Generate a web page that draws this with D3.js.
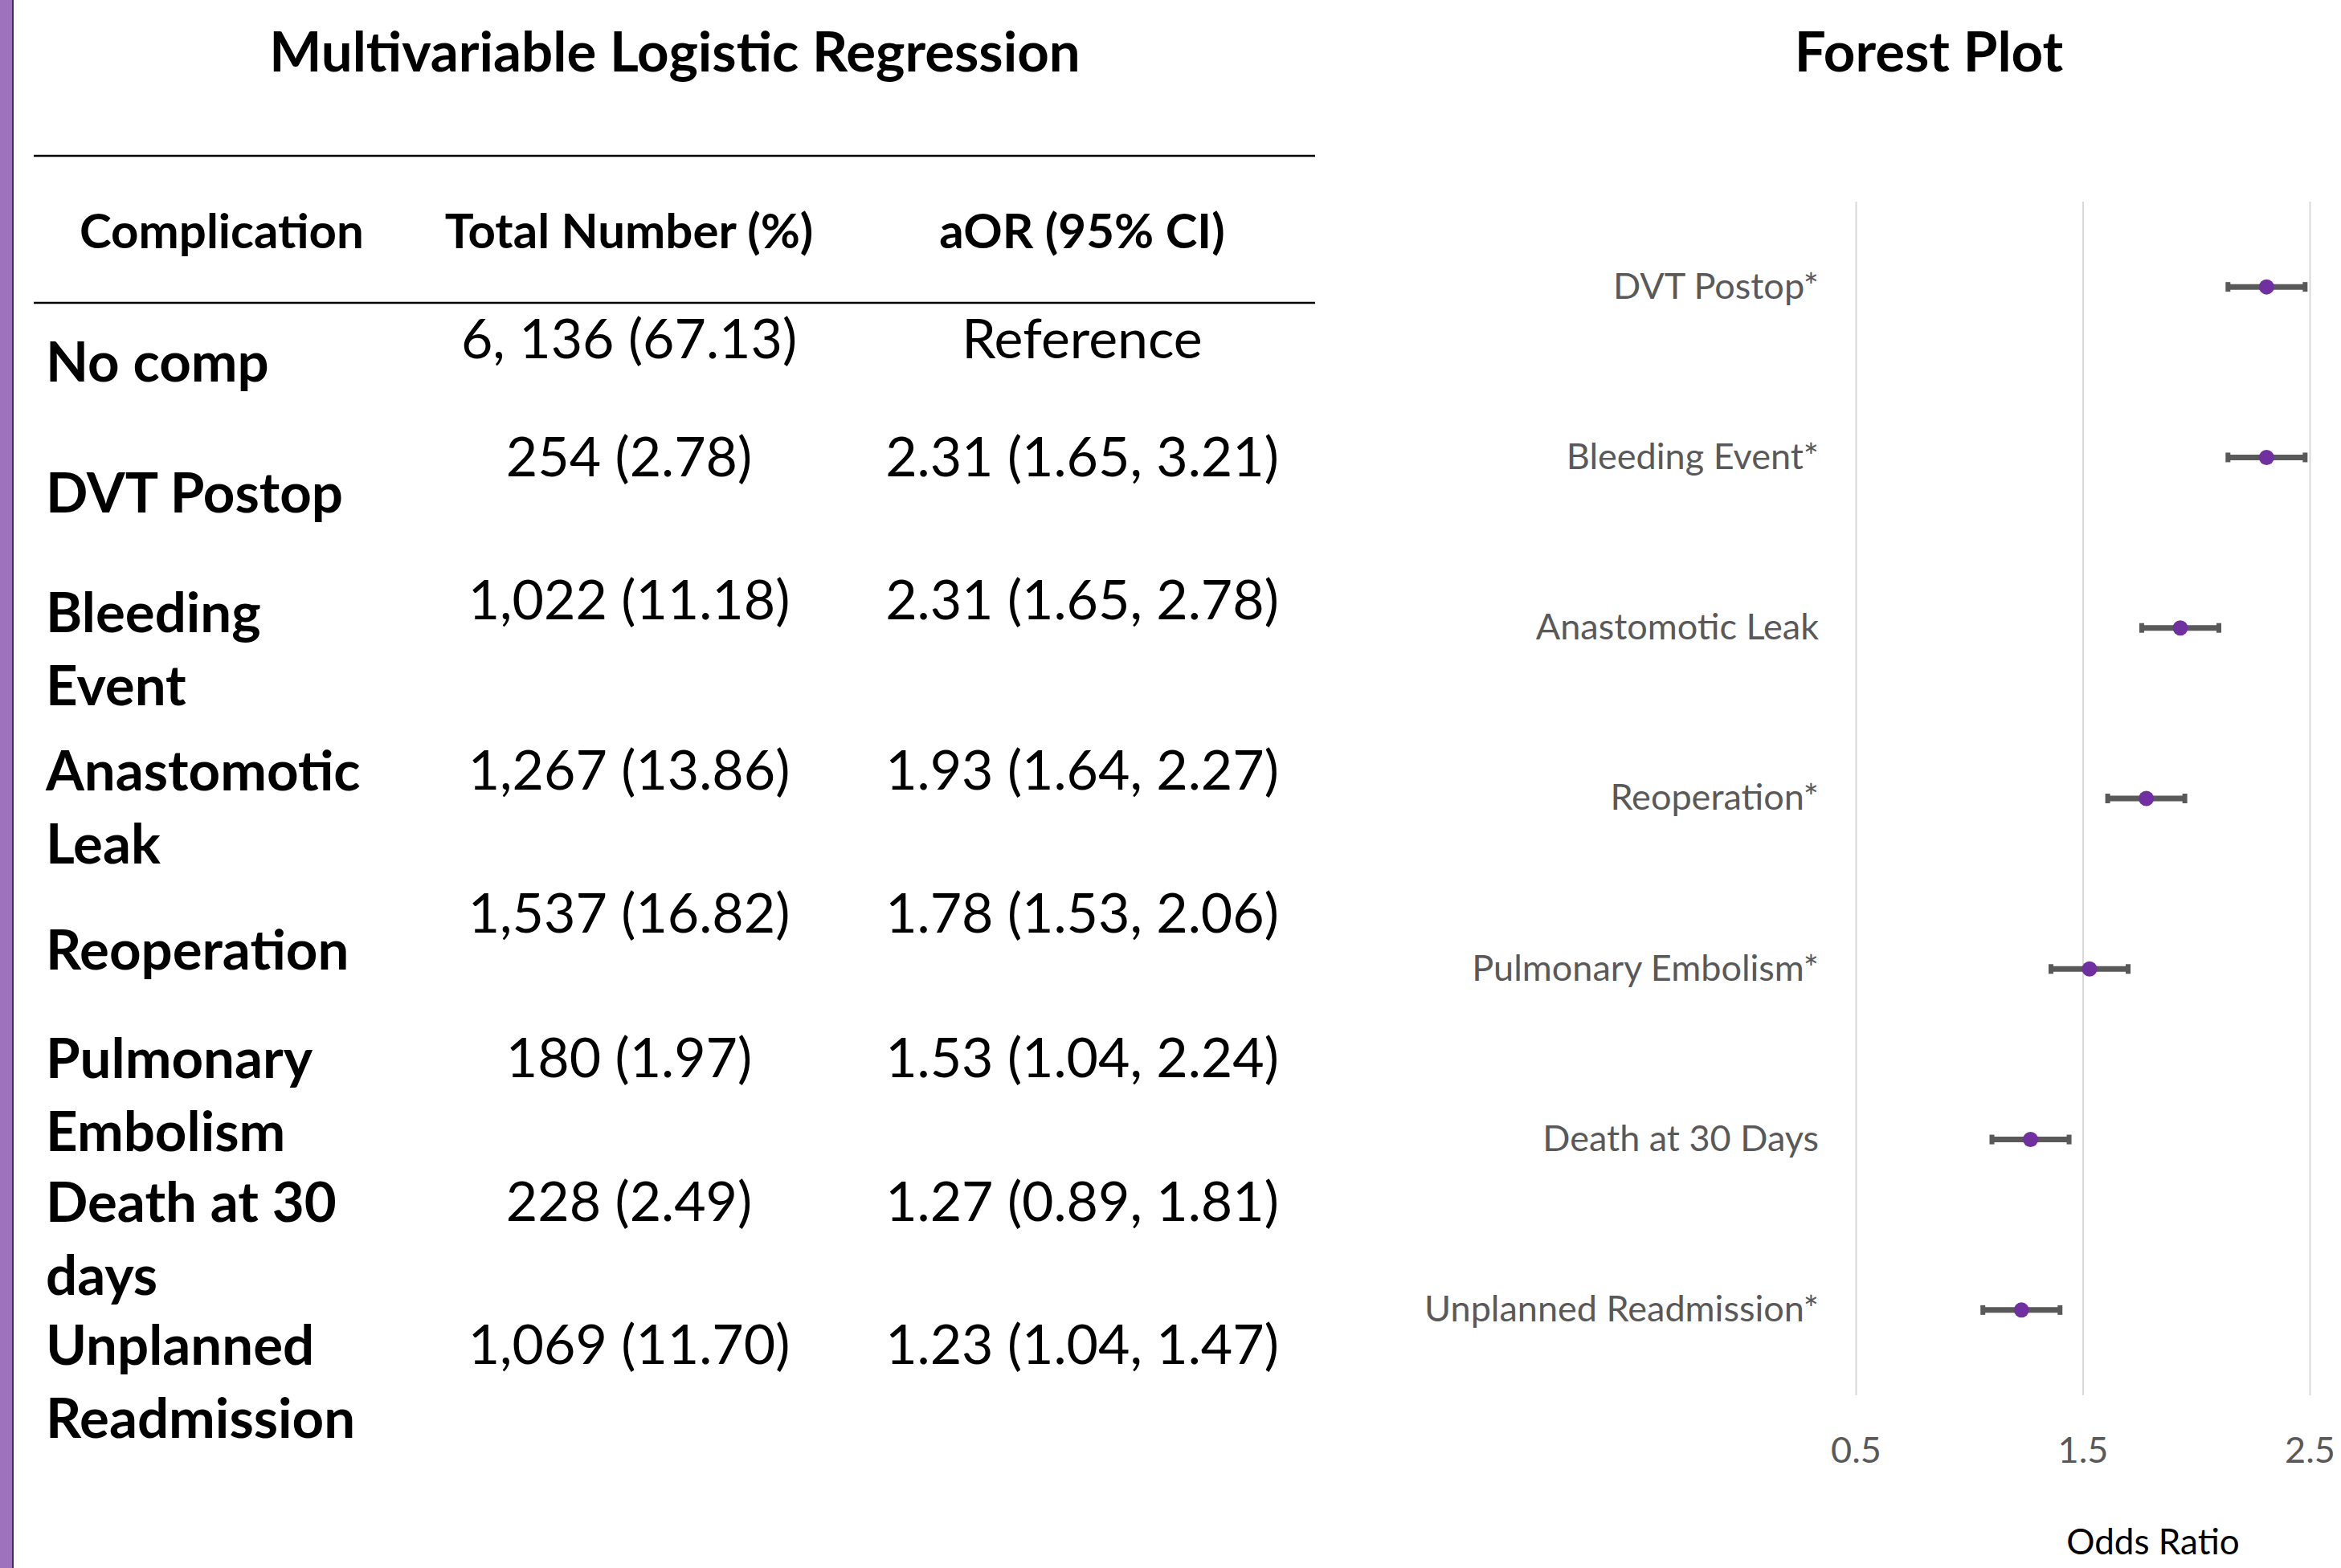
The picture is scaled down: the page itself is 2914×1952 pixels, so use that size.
<!DOCTYPE html>
<html>
<head>
<meta charset="utf-8">
<script src="https://cdn.jsdelivr.net/npm/d3@7"></script>
<style>
  body { margin: 0; background: #fff; }
  text { font-family: Lato, "Open Sans", sans-serif; }
</style>
</head>
<body>
<script>
// table data
var complications = [["No comp"], ["DVT Postop"], ["Bleeding", "Event"], ["Anastomotic", "Leak"],
  ["Reoperation"], ["Pulmonary", "Embolism"], ["Death at 30", "days"], ["Unplanned", "Readmission"]];
var totalNumber = ["6, 136 (67.13)", "254 (2.78)", "1,022 (11.18)", "1,267 (13.86)",
  "1,537 (16.82)", "180 (1.97)", "228 (2.49)", "1,069 (11.70)"];
var aorCI = ["Reference", "2.31 (1.65, 3.21)", "2.31 (1.65, 2.78)", "1.93 (1.64, 2.27)",
  "1.78 (1.53, 2.06)", "1.53 (1.04, 2.24)", "1.27 (0.89, 1.81)", "1.23 (1.04, 1.47)"];
var headers = ["Complication", "Total Number (%)", "aOR (95% CI)"];

// forest plot data
var forestCats = ["DVT Postop*", "Bleeding Event*", "Anastomotic Leak", "Reoperation*",
  "Pulmonary Embolism*", "Death at 30 Days", "Unplanned Readmission*"];
var oddsRatio = [2.31, 2.31, 1.93, 1.78, 1.53, 1.27, 1.23];
var barLow = [2.14, 2.14, 1.76, 1.61, 1.36, 1.10, 1.06];
var barHigh = [2.48, 2.48, 2.10, 1.95, 1.70, 1.44, 1.40];
var xTicks = [0.5, 1.5, 2.5];

var width = 2914, height = 1952;

var svg = d3.select('body')
  .append('svg')
  .attr('width', width)
  .attr('height', height);

// purple edge on the left
svg.append('rect')
  .attr('x', 0).attr('y', 0)
  .attr('width', 15).attr('height', height)
  .attr('fill', '#9e72bc');
svg.append('line')
  .attr('x1', 16).attr('x2', 16)
  .attr('y1', 0).attr('y2', height)
  .attr('stroke', '#3b3346')
  .attr('stroke-width', 2);

// ---------- table ----------
var table = svg.append('g').attr('class', 'table');

table.append('text')
  .attr('x', 840).attr('y', 89)
  .attr('text-anchor', 'middle')
  .attr('font-size', 69)
  .attr('font-weight', 'bold')
  .text('Multivariable Logistic Regression');

[194, 377].forEach(function(y) {
  table.append('line')
    .attr('x1', 42).attr('x2', 1637)
    .attr('y1', y).attr('y2', y)
    .attr('stroke', '#000')
    .attr('stroke-width', 2.5);
});

var colX = [276, 783, 1347];

table.selectAll('.head')
  .data(headers)
  .enter().append('text')
  .attr('class', 'head')
  .attr('x', function(d, i) { return colX[i]; })
  .attr('y', 309)
  .attr('text-anchor', 'middle')
  .attr('font-size', 60)
  .attr('font-weight', 'bold')
  .text(function(d) { return d; });

// baseline of number cells and shift of the label column per row
var rowBase = [446, 593, 771, 983, 1161, 1341, 1520, 1698];
var labelShift = [29, 45, 16, 1, 46, 1, 1, 1];
var lineGap = 91;

var rows = table.selectAll('.row')
  .data(complications)
  .enter().append('g')
  .attr('class', 'row')
  .attr('transform', function(d, i) { return 'translate(0,' + rowBase[i] + ')'; });

rows.append('text')
  .attr('x', 57)
  .attr('y', function(d, i) { return labelShift[i]; })
  .attr('font-size', 69)
  .attr('font-weight', 'bold')
  .selectAll('tspan')
  .data(function(d) { return d; })
  .enter().append('tspan')
  .attr('x', 57)
  .attr('dy', function(d, j) { return j === 0 ? 0 : lineGap; })
  .text(function(d) { return d; });

rows.append('text')
  .attr('x', colX[1])
  .attr('text-anchor', 'middle')
  .attr('font-size', 68)
  .text(function(d, i) { return totalNumber[i]; });

rows.append('text')
  .attr('x', colX[2])
  .attr('text-anchor', 'middle')
  .attr('font-size', 68)
  .text(function(d, i) { return aorCI[i]; });

// ---------- forest plot ----------
var plot = {left: 2310, right: 2875, top: 251, bottom: 1737};

svg.append('text')
  .attr('x', 2401).attr('y', 89)
  .attr('text-anchor', 'middle')
  .attr('font-size', 69)
  .attr('font-weight', 'bold')
  .text('Forest Plot');

var x = d3.scaleLinear()
  .domain([0.5, 2.5])
  .range([plot.left, plot.right]);

var y = d3.scaleBand()
  .domain(forestCats)
  .range([plot.top, plot.bottom]);

var xAxis = d3.axisBottom(x)
  .tickValues(xTicks)
  .tickFormat(d3.format('.1f'))
  .tickSize(-(plot.bottom - plot.top))
  .tickPadding(52);

var gx = svg.append('g')
  .attr('transform', 'translate(0,' + plot.bottom + ')')
  .call(xAxis);
gx.select('.domain').remove();
gx.selectAll('line').attr('stroke', '#d9d9d9').attr('stroke-width', 2);
gx.selectAll('text')
  .attr('fill', '#595959')
  .attr('font-size', 45)
  .attr('font-family', 'Lato, sans-serif');

var yAxis = d3.axisLeft(y)
  .tickSize(0)
  .tickPadding(46);

var gy = svg.append('g')
  .attr('transform', 'translate(' + plot.left + ',0)')
  .call(yAxis);
gy.select('.domain').remove();
gy.selectAll('text')
  .attr('fill', '#595959')
  .attr('font-size', 45)
  .attr('font-family', 'Lato, sans-serif');

svg.append('text')
  .attr('x', 2680).attr('y', 1935)
  .attr('text-anchor', 'middle')
  .attr('font-size', 44)
  .attr('fill', '#000')
  .text('Odds Ratio');

var points = svg.selectAll('.pt')
  .data(forestCats)
  .enter().append('g')
  .attr('class', 'pt')
  .attr('transform', function(d) { return 'translate(0,' + (y(d) + y.bandwidth() / 2) + ')'; });

points.append('line') // error bar
  .attr('x1', function(d, i) { return x(barLow[i]); })
  .attr('x2', function(d, i) { return x(barHigh[i]); })
  .attr('stroke', '#595959')
  .attr('stroke-width', 7);

points.append('line') // low cap
  .attr('x1', function(d, i) { return x(barLow[i]); })
  .attr('x2', function(d, i) { return x(barLow[i]); })
  .attr('y1', -6).attr('y2', 6)
  .attr('stroke', '#595959')
  .attr('stroke-width', 6);

points.append('line') // high cap
  .attr('x1', function(d, i) { return x(barHigh[i]); })
  .attr('x2', function(d, i) { return x(barHigh[i]); })
  .attr('y1', -6).attr('y2', 6)
  .attr('stroke', '#595959')
  .attr('stroke-width', 6);

points.append('circle')
  .attr('cx', function(d, i) { return x(oddsRatio[i]); })
  .attr('r', 9.5)
  .attr('fill', '#7030a0');
</script>
</body>
</html>
